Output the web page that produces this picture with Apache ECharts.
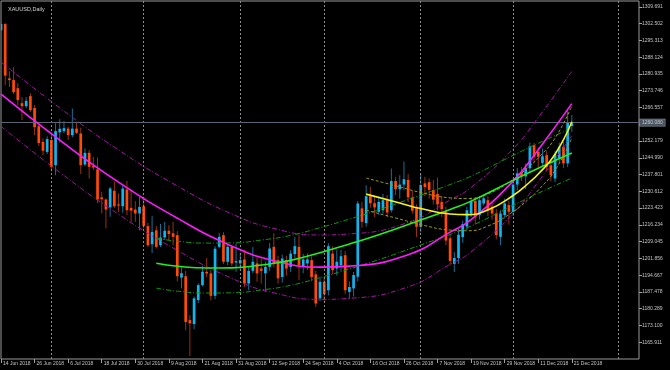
<!DOCTYPE html>
<html><head><meta charset="utf-8">
<script src="https://cdn.jsdelivr.net/npm/echarts@6/dist/echarts.min.js"></script>
<style>html,body{margin:0;padding:0;background:#000;}#c{width:670px;height:370px;}</style>
</head><body><div id="c"></div>
<script>
// ---- tick labels (every 8 trading days) ----
const tickLabels = ['14 Jun 2018','26 Jun 2018','6 Jul 2018','18 Jul 2018','30 Jul 2018','9 Aug 2018','21 Aug 2018','31 Aug 2018','12 Sep 2018','24 Sep 2018','4 Oct 2018','16 Oct 2018','26 Oct 2018','7 Nov 2018','19 Nov 2018','29 Nov 2018','11 Dec 2018','21 Dec 2018'];
const labelStep = 8;
const slotCount = 153;              // bar slots on the axis (137 bars + empty future)
const monthStarts = [12, 34, 57, 77, 100, 122, 147];
const bidPrice = 1260.08;
const yMin = 1158.722, yStep = 7.189, yMax = 1312.19;

// ---- XAUUSD daily OHLC, 14 Jun 2018 .. 21 Dec 2018 ----
const openP = [1299.7,1302.3,1279.0,1278.3,1274.8,1268.4,1267.1,1271.4,1266.3,1258.5,1251.8,1247.5,1252.6,1241.8,1255.9,1256.4,1257.5,1254.7,1257.5,1255.4,
1242.1,1247.1,1241.4,1240.0,1228.0,1227.1,1223.7,1230.8,1225.0,1224.2,1231.4,1223.5,1222.8,1221.1,1224.2,1215.7,1207.9,1213.9,1207.5,1210.8,
1213.7,1212.6,1211.8,1193.6,1194.2,1175.4,1173.7,1184.0,1190.4,1196.1,1195.4,1185.8,1206.8,1211.8,1200.4,1206.8,1200.1,1199.7,1201.4,1191.1,
1196.5,1199.7,1197.5,1195.5,1198.2,1206.8,1201.1,1193.9,1201.1,1198.2,1203.7,1206.8,1198.4,1199.7,1201.1,1195.0,1184.7,1191.8,1188.2,1203.9,
1197.5,1198.9,1203.2,1187.5,1189.0,1194.0,1223.3,1217.0,1228.5,1225.5,1221.8,1222.5,1226.8,1222.5,1235.0,1231.5,1233.5,1235.5,1228.0,1223.9,
1215.4,1234.0,1234.5,1231.2,1229.5,1226.0,1222.0,1210.5,1199.5,1202.0,1211.0,1215.5,1221.0,1226.5,1220.4,1225.4,1226.8,1224.0,1221.1,1211.1,
1220.4,1224.7,1221.8,1233.5,1238.6,1237.0,1240.5,1250.4,1247.5,1242.8,1246.1,1241.8,1236.1,1244.7,1249.7,1242.6,1258.6];
const highP = [1303.6,1302.7,1282.1,1283.8,1277.0,1271.0,1271.0,1272.7,1267.6,1260.3,1253.4,1254.2,1254.7,1259.8,1261.5,1260.7,1258.3,1266.1,1260.4,1257.9,
1249.0,1248.3,1245.4,1245.1,1230.4,1227.6,1232.5,1234.7,1229.7,1232.9,1235.1,1231.4,1226.4,1228.2,1228.2,1217.1,1220.0,1215.7,1216.6,1217.5,
1216.1,1217.5,1213.5,1198.0,1196.5,1177.5,1185.5,1191.2,1198.7,1202.0,1196.8,1207.1,1212.7,1213.1,1207.9,1207.5,1208.3,1204.0,1205.4,1198.5,
1206.7,1202.0,1201.8,1200.5,1208.5,1212.6,1203.0,1203.5,1203.0,1205.4,1211.1,1211.8,1203.8,1204.0,1202.8,1196.5,1194.0,1193.5,1208.3,1207.0,
1205.4,1205.5,1205.0,1192.0,1196.0,1226.5,1226.0,1233.2,1232.5,1228.8,1228.5,1229.5,1229.0,1240.4,1236.6,1237.5,1243.4,1238.0,1231.0,1225.0,
1238.2,1236.8,1236.1,1235.5,1236.5,1228.5,1224.0,1212.0,1204.5,1214.5,1218.0,1224.0,1228.0,1228.0,1228.5,1229.0,1228.5,1226.0,1223.0,1222.5,
1227.5,1226.5,1236.0,1240.5,1241.0,1242.5,1251.5,1251.3,1249.5,1249.0,1248.0,1243.5,1248.0,1251.5,1252.0,1265.4,1263.3];
const lowP = [1298.8,1276.1,1275.3,1272.3,1267.6,1261.1,1266.3,1264.6,1254.7,1250.0,1246.1,1246.6,1239.2,1237.5,1251.5,1255.5,1252.6,1253.8,1255.1,1238.0,
1241.4,1236.1,1239.7,1225.5,1221.1,1214.7,1219.7,1223.4,1221.8,1221.4,1220.4,1217.5,1217.5,1213.9,1214.7,1206.7,1204.2,1206.1,1206.7,1209.7,
1209.7,1207.5,1192.0,1189.0,1171.0,1160.0,1171.5,1182.7,1189.8,1193.8,1183.9,1184.4,1206.2,1199.4,1199.0,1198.5,1196.1,1197.0,1189.5,1188.2,
1195.5,1191.8,1191.1,1187.5,1196.5,1198.0,1191.0,1191.5,1194.5,1196.0,1202.0,1192.5,1195.5,1197.0,1192.0,1181.0,1183.5,1183.5,1186.0,1195.0,
1194.5,1196.5,1186.5,1184.5,1185.5,1192.0,1215.0,1215.5,1223.5,1219.6,1220.5,1221.0,1219.5,1221.5,1229.0,1227.5,1231.0,1226.0,1221.0,1211.0,
1213.0,1228.5,1227.5,1225.0,1222.5,1219.6,1207.5,1199.0,1196.0,1199.5,1208.5,1214.0,1219.5,1216.5,1218.5,1224.5,1220.0,1218.5,1210.0,1207.5,
1219.0,1216.3,1220.0,1231.0,1235.0,1231.5,1238.5,1243.0,1241.0,1241.5,1239.5,1235.0,1234.5,1243.0,1240.5,1241.0,1256.1];
const closeP = [1302.3,1280.2,1278.3,1273.1,1269.7,1267.1,1269.4,1265.4,1258.1,1251.3,1248.0,1253.0,1241.1,1256.4,1257.4,1257.7,1254.7,1257.5,1255.7,1241.8,
1247.1,1241.1,1240.8,1227.1,1227.2,1222.8,1231.8,1224.2,1224.5,1231.8,1222.5,1222.3,1221.1,1223.9,1215.8,1207.5,1213.2,1206.8,1210.8,1213.7,
1212.3,1211.1,1194.2,1195.5,1174.6,1174.0,1184.7,1190.4,1196.1,1195.4,1185.8,1206.0,1211.1,1200.4,1206.8,1199.7,1200.7,1201.1,1191.1,1196.5,
1200.4,1195.4,1196.5,1198.2,1206.1,1199.7,1193.3,1201.8,1197.5,1203.9,1207.1,1198.9,1201.4,1201.4,1193.9,1182.5,1191.8,1186.5,1207.1,1196.8,
1200.4,1202.8,1188.2,1189.6,1194.7,1225.4,1217.5,1228.5,1225.5,1223.7,1226.1,1226.8,1221.5,1235.0,1231.5,1233.5,1235.8,1228.0,1222.3,1215.4,
1233.3,1232.4,1231.2,1227.0,1225.0,1223.0,1209.5,1200.8,1202.0,1212.0,1216.5,1222.5,1226.5,1219.8,1226.8,1227.6,1222.5,1221.1,1211.8,1221.1,
1225.4,1221.8,1233.5,1238.3,1237.0,1240.5,1249.9,1245.4,1245.4,1245.6,1241.1,1237.5,1246.5,1249.7,1242.6,1259.9,1260.08];

// ---- regression channels (bar index, price) ----
const magentaIdx = [0,14,28,42,55,65,76,83,97,107,112,122,128,136];
const magentaMid = [1272.26,1252.54,1234.54,1219.10,1207.10,1200.88,1198.10,1198.53,1203.46,1213.10,1218.46,1234.97,1248.47,1268.19];
const magentaUp  = [1286.06,1266.34,1248.34,1232.90,1220.90,1214.68,1211.90,1212.33,1217.26,1226.90,1232.26,1248.77,1262.27,1281.99];
const magentaLo  = [1258.46,1238.74,1220.74,1205.30,1193.30,1187.08,1184.30,1184.73,1189.66,1199.30,1204.66,1221.17,1234.67,1254.39];
const greenIdx = [37,42,49,55,62,69,76,83,90,100,107,112,122,128,136];
const greenMid = [1199.8,1198.5,1197.7,1197.8,1199.0,1201.0,1204.3,1208.0,1212.0,1218.3,1222.8,1226.4,1235.3,1240.5,1247.0];
const greenUp  = [1210.5,1209.2,1208.4,1208.5,1209.7,1211.7,1215.0,1218.7,1222.7,1229.0,1233.5,1237.1,1246.0,1251.2,1257.7];
const greenLo  = [1189.1,1187.8,1187.0,1187.1,1188.3,1190.3,1193.6,1197.3,1201.3,1207.6,1212.1,1215.7,1224.6,1229.8,1236.3];
const yellowIdx = [87,95,100,107,111,116,122,126,128,132,136];
const yellowMid = [1229.4,1225.6,1223.2,1220.9,1220.6,1222.6,1228.8,1234.6,1238.0,1246.5,1260.4];
const yellowUp  = [1236.3,1232.5,1230.1,1227.8,1227.5,1229.5,1235.7,1241.5,1244.9,1253.4,1267.3];
const yellowLo  = [1222.5,1218.7,1216.3,1214.0,1213.7,1215.7,1221.9,1227.7,1231.1,1239.6,1253.5];

// ---- build ----
const categories = Array.from({length: slotCount}, (_, i) => String(i));
const candleData = openP.map((o, i) => [i, o, closeP[i], lowP[i], highP[i]]);
const pairs = (idx, vals) => idx.map((x, k) => [x, vals[k]]);
const isLabelIdx = (i) => i % labelStep === 0 && i / labelStep < tickLabels.length;
const FONT = 'Liberation Sans';

function renderCandle(params, api) {
  const i = api.value(0), o = api.value(1), c = api.value(2), l = api.value(3), h = api.value(4);
  const pO = api.coord([i, o]), pC = api.coord([i, c]), pL = api.coord([i, l]), pH = api.coord([i, h]);
  const bull = c >= o;
  const x = pO[0];
  const w = 2.7;
  const top = Math.min(pO[1], pC[1]);
  const hgt = Math.max(1, Math.abs(pO[1] - pC[1]));
  return {
    type: 'group',
    children: [
      {type: 'line', shape: {x1: x, y1: pH[1], x2: x, y2: pL[1]},
       style: {stroke: bull ? '#1a6d93' : '#983212', lineWidth: 1}},
      {type: 'rect', shape: {x: x - w / 2, y: top, width: w, height: hgt},
       style: {fill: bull ? '#12b4ee' : '#ff4a0a'}}
    ]
  };
}

function band(name, idx, vals, color, type, width, z) {
  return {name, type: 'line', data: pairs(idx, vals), smooth: true, showSymbol: false, silent: true, z,
    lineStyle: {color, width, type}};
}

const chart = echarts.init(document.getElementById('c'), null, {renderer: 'canvas'});
chart.setOption({
  animation: false,
  backgroundColor: '#000000',
  title: {text: 'XAUUSD,Daily', left: 3, top: 1.5,
    textStyle: {fontSize: 5.5, color: '#d4d4d4', fontWeight: 'normal', fontFamily: FONT}},
  grid: {left: 1, right: 31, top: 1, bottom: 11, show: true, borderColor: '#9a9a9a', borderWidth: 1,
    backgroundColor: 'transparent', containLabel: false, outerBoundsMode: 'none'},
  xAxis: {
    type: 'category', data: categories, boundaryGap: false,
    axisLine: {show: false},
    axisTick: {show: true, interval: (i) => isLabelIdx(i), length: 4, lineStyle: {color: '#a0a0a0'}},
    axisLabel: {interval: (i) => isLabelIdx(i), formatter: (v, i) => isLabelIdx(i) ? tickLabels[i / labelStep] : '',
      align: 'left', fontSize: 5, color: '#c4c4c4', margin: 2, padding: [0, 0, 0, 2], fontFamily: FONT},
    splitLine: {show: false}
  },
  yAxis: {
    type: 'value', position: 'right', min: yMin, max: yMax, interval: yStep,
    axisLine: {show: false},
    axisTick: {show: true, length: 3, lineStyle: {color: '#a0a0a0'}},
    splitLine: {show: false},
    axisLabel: {fontSize: 5, color: '#c4c4c4', margin: 3, fontFamily: FONT, showMinLabel: false, showMaxLabel: false,
      formatter: (v) => (Math.abs(v - yMin) < 0.01 || Math.abs(v - yMax) < 0.01 || Math.abs(v - 1259.368) < 0.01) ? '' : v.toFixed(3)}
  },
  series: [
    {name: 'grid', type: 'line', data: [], z: 1, silent: true,
      markLine: {silent: true, symbol: 'none', label: {show: false},
        lineStyle: {color: '#8c8c8c', type: [2, 2], width: 1},
        data: monthStarts.map((m) => ({xAxis: m}))}},
    {name: 'bid', type: 'line', data: [], z: 1, silent: true,
      markLine: {silent: true, symbol: 'none',
        lineStyle: {color: '#5a6472', type: 'solid', width: 1},
        label: {show: true, position: 'end', distance: 1, formatter: bidPrice.toFixed(3), fontSize: 5, fontFamily: FONT,
          color: '#c8ccd2', backgroundColor: '#4a5462', borderColor: '#8c96a2', borderWidth: 0.6, padding: [1, 2, 0.5, 2]},
        data: [{yAxis: bidPrice}]}},
    {name: 'XAUUSD', type: 'custom', renderItem: renderCandle, data: candleData, z: 3, clip: true,
      encode: {x: 0, y: [1, 2, 3, 4]}},
    band('magUp', magentaIdx, magentaUp, '#a812a8', [5, 2, 1, 2], 1, 5),
    band('magLo', magentaIdx, magentaLo, '#a812a8', [5, 2, 1, 2], 1, 5),
    band('grnUp', greenIdx, greenUp, '#0f9a0f', [5, 2, 1, 2], 1, 5),
    band('grnLo', greenIdx, greenLo, '#0f9a0f', [5, 2, 1, 2], 1, 5),
    band('yelUp', yellowIdx, yellowUp, '#9a9a10', [3, 2], 1, 5),
    band('yelLo', yellowIdx, yellowLo, '#9a9a10', [3, 2], 1, 5),
    band('magMid', magentaIdx, magentaMid, '#ff1aff', 'solid', 1.6, 6),
    band('grnMid', greenIdx, greenMid, '#22ee22', 'solid', 1.6, 6),
    band('yelMid', yellowIdx, yellowMid, '#f4f41a', 'solid', 1.6, 6)
  ]
});
</script></body></html>
